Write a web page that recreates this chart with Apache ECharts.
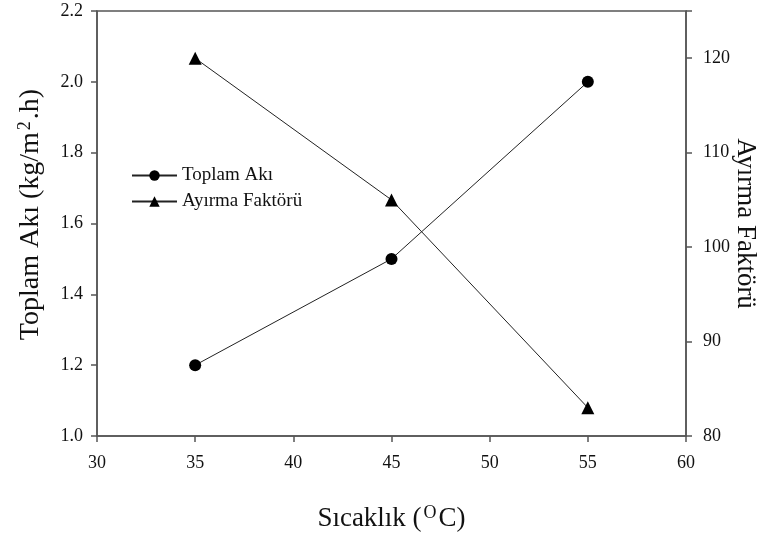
<!DOCTYPE html>
<html>
<head>
<meta charset="utf-8">
<script src="https://cdn.jsdelivr.net/npm/echarts@6/dist/echarts.min.js"></script>
<style>
  html, body { margin: 0; padding: 0; background: #fff; }
  #chart { width: 769px; height: 538px; }
</style>
</head>
<body>
<div id="chart"></div>
<script>
// temperature (x) and the two measured series
var sicaklik = [35, 45, 55];
var toplamAki = [1.2, 1.5, 2.0];
var ayirmaFaktoru = [120, 105, 83];

var FONT = '"Liberation Serif", "Times New Roman", serif';

var chart = echarts.init(document.getElementById('chart'));

function pairs(xs, ys) {
  var out = [];
  for (var i = 0; i < xs.length; i++) {
    out.push([xs[i], ys[i]]);
  }
  return out;
}

var axisLine = { show: true, lineStyle: { color: '#555', width: 1.5 } };
var axisTick = { show: true, inside: false, length: 6, lineStyle: { color: '#555', width: 1.5 } };
var axisLabel = { color: '#111', fontFamily: FONT, fontSize: 18 };
var supStyle = { fontFamily: FONT, fontSize: 18, color: '#111', padding: [0, 2, 12, 2] };
var baseStyle = { fontFamily: FONT, fontSize: 27, color: '#111' };

var option = {
  animation: false,
  backgroundColor: '#fff',
  grid: {
    left: 97, right: 83, top: 11, bottom: 102,
    outerBoundsMode: 'none',
    containLabel: false,
    show: true, borderColor: '#555', borderWidth: 1.5
  },
  legend: {
    orient: 'vertical',
    left: 126,
    top: 161,
    itemWidth: 45,
    itemHeight: 13,
    itemGap: 7,
    textStyle: { fontFamily: FONT, fontSize: 19, color: '#111' },
    data: ['Toplam Akı', 'Ayırma Faktörü']
  },
  xAxis: {
    type: 'value',
    min: 30,
    max: 60,
    interval: 5,
    splitLine: { show: false },
    axisLine: axisLine,
    axisTick: axisTick,
    axisLabel: Object.assign({ margin: 18 }, axisLabel),
    name: 'Sıcaklık ({s|O}C)',
    nameLocation: 'middle',
    nameGap: 68,
    nameMoveOverlap: false,
    nameTextStyle: Object.assign({ rich: { s: supStyle } }, baseStyle)
  },
  yAxis: [{
    type: 'value',
    min: 1.0,
    max: 2.2,
    interval: 0.2,
    position: 'left',
    splitLine: { show: false },
    axisLine: axisLine,
    axisTick: axisTick,
    axisLabel: Object.assign({ margin: 14, formatter: function (v) { return v.toFixed(1); } }, axisLabel),
    name: 'Toplam Akı (kg/m{s|2}.h)',
    nameLocation: 'middle',
    nameGap: 51,
    nameMoveOverlap: false,
    nameRotate: 90,
    nameTextStyle: Object.assign({ rich: { s: supStyle }, padding: [0, 0, 0, 18] }, baseStyle, { fontSize: 28 })
  }, {
    type: 'value',
    min: 80,
    max: 125,
    interval: 10,
    position: 'right',
    splitLine: { show: false },
    axisLine: axisLine,
    axisTick: axisTick,
    axisLabel: Object.assign({
      margin: 17,
      formatter: function (v) { return v > 120 ? '' : String(v); }
    }, axisLabel),
    name: 'Ayırma Faktörü',
    nameLocation: 'middle',
    nameGap: 46,
    nameMoveOverlap: false,
    nameRotate: -90,
    nameTextStyle: baseStyle
  }],
  series: [{
    name: 'Toplam Akı',
    type: 'line',
    yAxisIndex: 0,
    data: pairs(sicaklik, toplamAki),
    symbol: 'circle',
    symbolSize: 12,
    lineStyle: { color: '#222', width: 1 },
    itemStyle: { color: '#000' }
  }, {
    name: 'Ayırma Faktörü',
    type: 'line',
    yAxisIndex: 1,
    data: pairs(sicaklik, ayirmaFaktoru),
    symbol: 'triangle',
    symbolSize: 13,
    lineStyle: { color: '#222', width: 1 },
    itemStyle: { color: '#000' }
  }]
};

chart.setOption(option);
</script>
</body>
</html>
